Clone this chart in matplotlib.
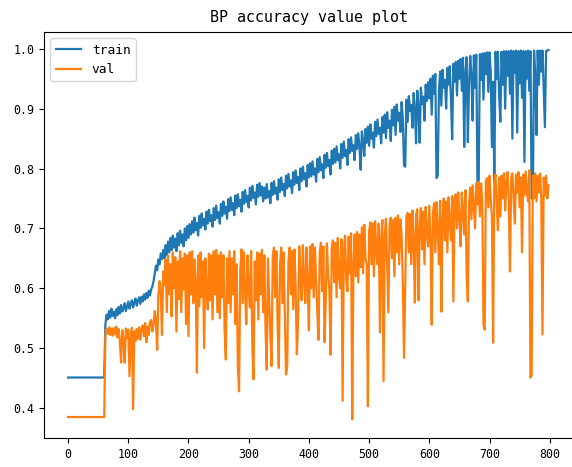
import numpy as np
import matplotlib
matplotlib.use("Agg")
import matplotlib.pyplot as plt

epochs = list(range(0, 800, 2))

train_acc = [
    0.451, 0.451, 0.451, 0.451, 0.451, 0.451, 0.451, 0.451, 0.451, 0.451, 0.451, 0.451, 0.451, 0.451, 0.451, 0.451, 0.451, 0.451, 0.451, 0.451,
    0.451, 0.451, 0.451, 0.451, 0.451, 0.451, 0.451, 0.451, 0.451, 0.451, 0.451, 0.540, 0.556, 0.548, 0.562, 0.551, 0.566, 0.554, 0.561, 0.550,
    0.565, 0.555, 0.569, 0.558, 0.572, 0.561, 0.567, 0.575, 0.562, 0.570, 0.578, 0.566, 0.574, 0.580, 0.568, 0.577, 0.583, 0.571, 0.579, 0.585,
    0.574, 0.586, 0.578, 0.590, 0.581, 0.592, 0.584, 0.596, 0.588, 0.598, 0.603, 0.612, 0.625, 0.638, 0.630, 0.648, 0.640, 0.658, 0.649, 0.664,
    0.650, 0.672, 0.655, 0.678, 0.660, 0.684, 0.664, 0.688, 0.668, 0.683, 0.662, 0.692, 0.672, 0.696, 0.676, 0.690, 0.670, 0.700, 0.680, 0.704,
    0.684, 0.707, 0.690, 0.712, 0.693, 0.718, 0.697, 0.709, 0.688, 0.721, 0.701, 0.725, 0.705, 0.716, 0.698, 0.728, 0.708, 0.731, 0.712, 0.722,
    0.703, 0.734, 0.714, 0.738, 0.717, 0.727, 0.708, 0.741, 0.721, 0.745, 0.725, 0.736, 0.716, 0.749, 0.729, 0.752, 0.731, 0.742, 0.722, 0.755,
    0.734, 0.757, 0.737, 0.748, 0.728, 0.761, 0.741, 0.764, 0.744, 0.754, 0.735, 0.768, 0.747, 0.771, 0.751, 0.760, 0.740, 0.773, 0.753, 0.776,
    0.755, 0.770, 0.745, 0.768, 0.750, 0.774, 0.752, 0.762, 0.742, 0.776, 0.756, 0.779, 0.758, 0.768, 0.748, 0.782, 0.761, 0.785, 0.764, 0.774,
    0.754, 0.788, 0.767, 0.791, 0.770, 0.780, 0.759, 0.794, 0.773, 0.797, 0.776, 0.786, 0.764, 0.800, 0.779, 0.803, 0.782, 0.792, 0.770, 0.806,
    0.785, 0.809, 0.787, 0.812, 0.790, 0.800, 0.778, 0.816, 0.794, 0.819, 0.797, 0.807, 0.784, 0.823, 0.801, 0.826, 0.804, 0.814, 0.790, 0.830,
    0.808, 0.833, 0.810, 0.837, 0.814, 0.824, 0.800, 0.841, 0.818, 0.845, 0.821, 0.831, 0.806, 0.849, 0.826, 0.852, 0.829, 0.839, 0.814, 0.856,
    0.833, 0.859, 0.836, 0.798, 0.862, 0.846, 0.821, 0.866, 0.843, 0.870, 0.838, 0.874, 0.850, 0.860, 0.835, 0.878, 0.854, 0.882, 0.858, 0.868,
    0.842, 0.886, 0.860, 0.890, 0.851, 0.894, 0.868, 0.880, 0.846, 0.898, 0.872, 0.903, 0.856, 0.907, 0.880, 0.893, 0.861, 0.911, 0.884, 0.805,
    0.803, 0.915, 0.878, 0.921, 0.896, 0.906, 0.868, 0.926, 0.900, 0.842, 0.930, 0.904, 0.843, 0.935, 0.908, 0.920, 0.880, 0.940, 0.913, 0.944,
    0.917, 0.950, 0.890, 0.955, 0.925, 0.958, 0.784, 0.788, 0.930, 0.962, 0.905, 0.965, 0.935, 0.948, 0.900, 0.968, 0.940, 0.971, 0.915, 0.849,
    0.975, 0.945, 0.978, 0.922, 0.980, 0.950, 0.983, 0.930, 0.985, 0.836, 0.960, 0.986, 0.844, 0.940, 0.988, 0.955, 0.880, 0.989, 0.935, 0.990,
    0.772, 0.775, 0.991, 0.948, 0.992, 0.915, 0.993, 0.958, 0.994, 0.928, 0.994, 0.962, 0.836, 0.945, 0.776, 0.995, 0.950, 0.995, 0.920, 0.878,
    0.995, 0.940, 0.996, 0.900, 0.996, 0.955, 0.996, 0.925, 0.997, 0.850, 0.996, 0.960, 0.997, 0.860, 0.996, 0.942, 0.997, 0.918, 0.996, 0.811,
    0.996, 0.950, 0.997, 0.930, 0.996, 0.750, 0.752, 0.997, 0.955, 0.856, 0.997, 0.940, 0.997, 0.962, 0.997, 0.935, 0.869, 0.996, 0.997, 0.998,
]

val_acc = [
    0.385, 0.385, 0.385, 0.385, 0.385, 0.385, 0.385, 0.385, 0.385, 0.385, 0.385, 0.385, 0.385, 0.385, 0.385, 0.385, 0.385, 0.385, 0.385, 0.385,
    0.385, 0.385, 0.385, 0.385, 0.385, 0.385, 0.385, 0.385, 0.385, 0.385, 0.385, 0.520, 0.532, 0.524, 0.535, 0.522, 0.533, 0.521, 0.534, 0.523,
    0.536, 0.518, 0.532, 0.512, 0.476, 0.530, 0.515, 0.476, 0.533, 0.517, 0.531, 0.453, 0.520, 0.534, 0.398, 0.528, 0.512, 0.532, 0.516, 0.535,
    0.514, 0.533, 0.538, 0.520, 0.542, 0.510, 0.536, 0.522, 0.544, 0.547, 0.528, 0.540, 0.562, 0.545, 0.497, 0.588, 0.612, 0.595, 0.522, 0.628,
    0.605, 0.648, 0.560, 0.655, 0.590, 0.640, 0.553, 0.660, 0.600, 0.652, 0.528, 0.645, 0.582, 0.662, 0.560, 0.650, 0.598, 0.658, 0.540, 0.655,
    0.520, 0.660, 0.590, 0.662, 0.575, 0.648, 0.610, 0.459, 0.655, 0.570, 0.660, 0.585, 0.645, 0.500, 0.650, 0.600, 0.565, 0.658, 0.580, 0.655,
    0.548, 0.662, 0.590, 0.664, 0.560, 0.655, 0.550, 0.660, 0.585, 0.655, 0.530, 0.481, 0.650, 0.575, 0.662, 0.560, 0.650, 0.590, 0.662, 0.540,
    0.640, 0.470, 0.428, 0.630, 0.665, 0.575, 0.660, 0.595, 0.540, 0.655, 0.600, 0.568, 0.662, 0.505, 0.448, 0.645, 0.580, 0.660, 0.548, 0.658,
    0.590, 0.664, 0.560, 0.655, 0.530, 0.464, 0.650, 0.585, 0.520, 0.470, 0.655, 0.668, 0.585, 0.662, 0.540, 0.467, 0.640, 0.668, 0.575, 0.660,
    0.560, 0.456, 0.470, 0.645, 0.668, 0.590, 0.662, 0.565, 0.665, 0.600, 0.490, 0.545, 0.670, 0.610, 0.580, 0.672, 0.615, 0.575, 0.668, 0.605,
    0.530, 0.670, 0.600, 0.674, 0.585, 0.668, 0.615, 0.560, 0.514, 0.660, 0.676, 0.595, 0.670, 0.510, 0.580, 0.675, 0.620, 0.600, 0.489, 0.668,
    0.680, 0.610, 0.676, 0.585, 0.684, 0.620, 0.600, 0.682, 0.412, 0.660, 0.688, 0.615, 0.595, 0.686, 0.625, 0.692, 0.381, 0.640, 0.690, 0.620,
    0.694, 0.610, 0.690, 0.635, 0.702, 0.625, 0.706, 0.650, 0.640, 0.403, 0.695, 0.710, 0.640, 0.708, 0.620, 0.712, 0.660, 0.640, 0.708, 0.526,
    0.680, 0.714, 0.445, 0.690, 0.716, 0.635, 0.560, 0.705, 0.718, 0.650, 0.714, 0.620, 0.718, 0.660, 0.722, 0.640, 0.715, 0.690, 0.610, 0.484,
    0.600, 0.720, 0.726, 0.660, 0.724, 0.640, 0.730, 0.680, 0.576, 0.722, 0.732, 0.580, 0.700, 0.734, 0.665, 0.728, 0.640, 0.736, 0.690, 0.670,
    0.738, 0.680, 0.539, 0.726, 0.742, 0.660, 0.744, 0.700, 0.640, 0.746, 0.561, 0.715, 0.750, 0.680, 0.745, 0.660, 0.752, 0.710, 0.680, 0.754,
    0.578, 0.748, 0.757, 0.700, 0.760, 0.720, 0.670, 0.760, 0.730, 0.690, 0.764, 0.622, 0.578, 0.740, 0.768, 0.715, 0.772, 0.735, 0.700, 0.775,
    0.740, 0.778, 0.720, 0.775, 0.745, 0.539, 0.531, 0.780, 0.784, 0.735, 0.788, 0.750, 0.720, 0.509, 0.782, 0.790, 0.740, 0.697, 0.785, 0.720,
    0.788, 0.750, 0.792, 0.730, 0.778, 0.794, 0.745, 0.628, 0.785, 0.792, 0.750, 0.708, 0.790, 0.760, 0.794, 0.735, 0.785, 0.660, 0.790, 0.755,
    0.795, 0.760, 0.745, 0.797, 0.451, 0.455, 0.788, 0.750, 0.792, 0.745, 0.788, 0.760, 0.792, 0.750, 0.523, 0.785, 0.755, 0.788, 0.750, 0.772,
]

series_labels = ["train", "val"]
title_text = "BP accuracy value plot"
xticks = [0, 100, 200, 300, 400, 500, 600, 700, 800]
yticks = [0.4, 0.5, 0.6, 0.7, 0.8, 0.9, 1.0]

plt.rcParams['font.family'] = ['DejaVu Sans Mono']

fig = plt.figure(figsize=(5.72, 4.67), dpi=100)
ax = fig.add_axes([44 / 572, 29 / 467, 531 / 572, 406 / 467])
ax.plot(epochs, train_acc, label=series_labels[0], color="#1f77b4", linewidth=1.6)
ax.plot(epochs, val_acc, label=series_labels[1], color="#ff7f0e", linewidth=1.6)
ax.set_xlim(-40, 842)
ax.set_ylim(0.350, 1.028)
ax.set_xticks(xticks)
ax.set_yticks(yticks)
ax.tick_params(labelsize=8.4)
ax.set_title(title_text, fontsize=10.8, pad=7)
ax.legend(loc="upper left", fontsize=9.3)
fig.savefig("out.png", dpi=100)
